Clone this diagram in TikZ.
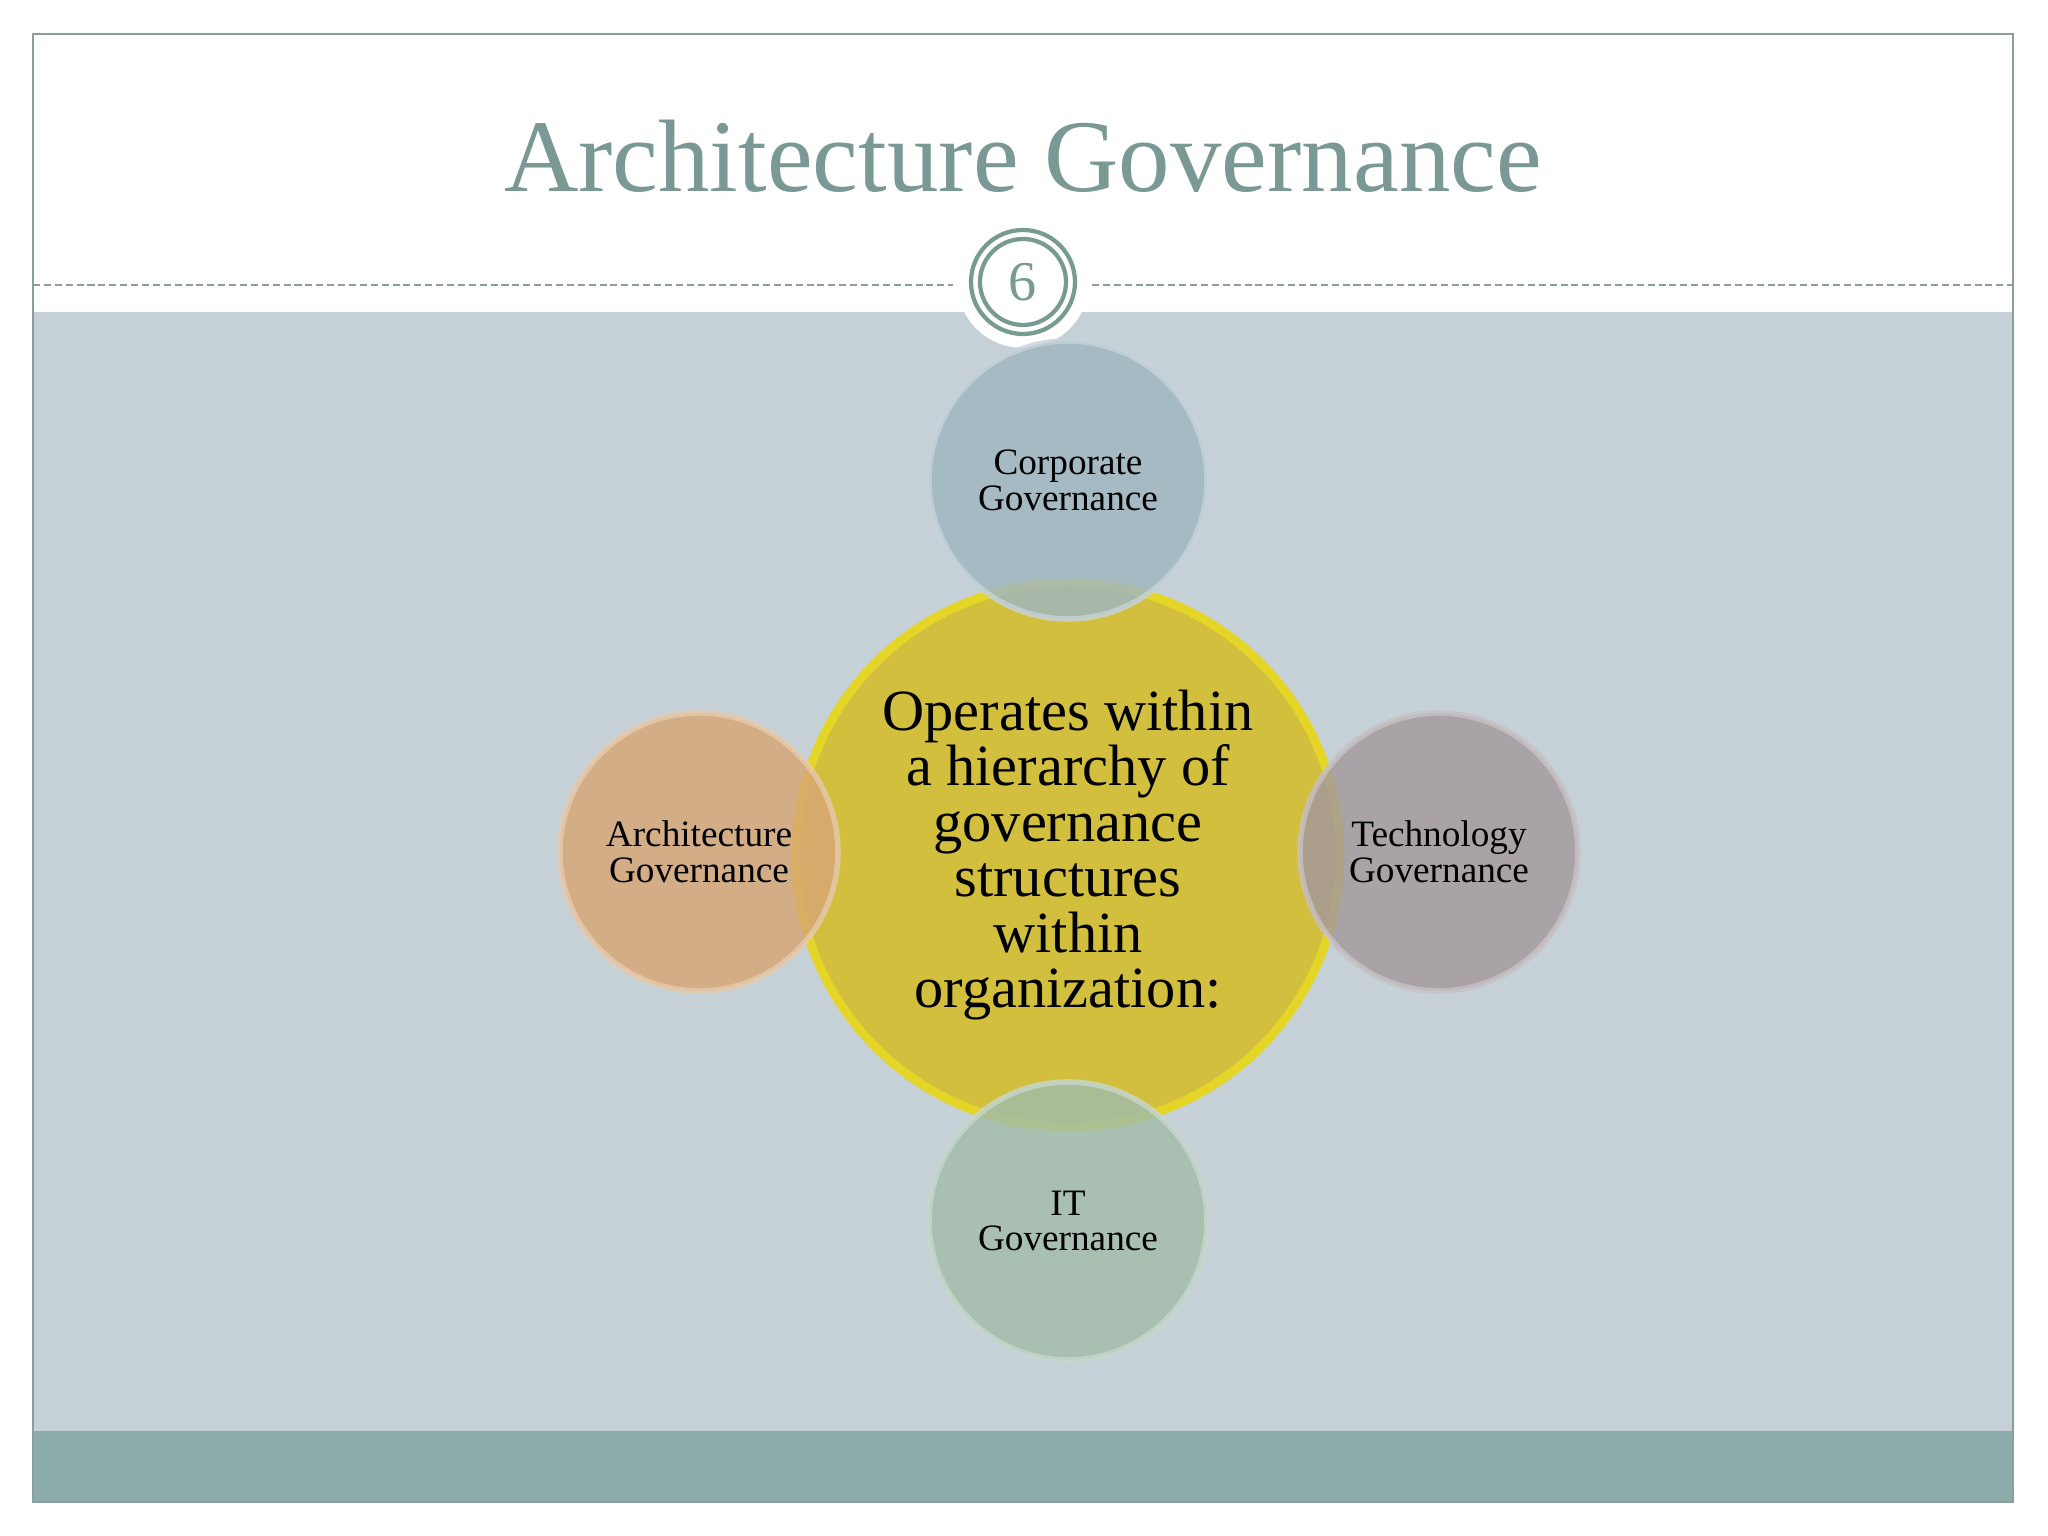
\documentclass[tikz,border=0pt]{standalone}
\usepackage{fontspec}
\setmainfont{Liberation Serif}
\definecolor{frameGray}{HTML}{8A9E9C}
\definecolor{bandGray}{HTML}{C5D1D7}
\definecolor{footTeal}{HTML}{8CABAB}
\definecolor{titleTeal}{HTML}{7A9894}
\definecolor{numTeal}{HTML}{779A91}
\definecolor{coreYellow}{HTML}{D2BF3E}
\definecolor{rimYellow}{HTML}{E4D526}
\definecolor{govBlue}{HTML}{A0B6C1}
\definecolor{govOrange}{HTML}{D6A674}
\definecolor{govMauve}{HTML}{A3989C}
\definecolor{govGreen}{HTML}{A2BCAA}

\begin{document}
\begin{tikzpicture}[
    frame_style/.style={draw=frameGray, line width=0.8pt},
    rule_style/.style={draw=frameGray, line width=0.8pt, dash pattern=on 2pt off 1.1pt},
    gov_style/.style={circle, minimum size=2.78cm, inner sep=0, align=center,
        font=\fontsize{10.6}{10.2}\selectfont, text=black, text opacity=1}
]
    \useasboundingbox (0,0) rectangle (20.48,15.36);

    % --- 绘制宏 ---
    \newcommand{\gov}[4]{
        \node[gov_style, fill=#3, fill opacity=0.82, draw=#3!60!white,
              line width=1.6pt, draw opacity=0.8] (#1) at (#2) {#4};
    }

    % --- 背景 ---
    \fill[white] (0,0) rectangle (20.48,15.36);
    \fill[bandGray] (0.33,1.05) rectangle (20.13,12.24);
    \fill[footTeal] (0.33,0.34) rectangle (20.13,1.05);
    \draw[frame_style] (0.33,0.34) rectangle (20.13,15.02);

    % --- 标题与页码 ---
    \node[text=titleTeal, font=\fontsize{29.3}{31}\selectfont] (title) at (10.23,13.80) {Architecture Governance};
    \fill[white] (10.23,12.54) circle (0.66);
    \coordinate (ruleL) at (0.33,12.51);
    \coordinate (ruleR) at (20.13,12.51);
    \node[circle, inner sep=0, minimum size=1.04cm, text=numTeal, font=\fontsize{16}{16}\selectfont] (pgnum) at (10.23,12.54) {6};
    \draw[rule_style] (ruleL) -- (9.53,12.51);
    \draw[rule_style] (10.92,12.51) -- (ruleR);
    \draw[numTeal, line width=1.2pt] (pgnum.center) circle (0.52);
    \draw[numTeal, line width=1.2pt] (pgnum.center) circle (0.43);

    % --- 中心圆 ---
    \node[circle, minimum size=5.44cm, inner sep=0, align=center,
          fill=coreYellow, draw=rimYellow, line width=2.5pt,
          font=\fontsize{16.6}{15.8}\selectfont] (core) at (10.68,6.81)
        {Operates within\\a hierarchy of\\governance\\structures\\within\\organization:};

    % --- 四周的圆 ---
    \gov{corp}{10.68,10.56}{govBlue}{Corporate\\Governance}
    \gov{arch}{6.99,6.84}{govOrange}{Architecture\\Governance}
    \gov{tech}{14.39,6.84}{govMauve}{Technology\\Governance}
    \gov{itgov}{10.68,3.15}{govGreen}{IT\\Governance}

\end{tikzpicture}
\end{document}
